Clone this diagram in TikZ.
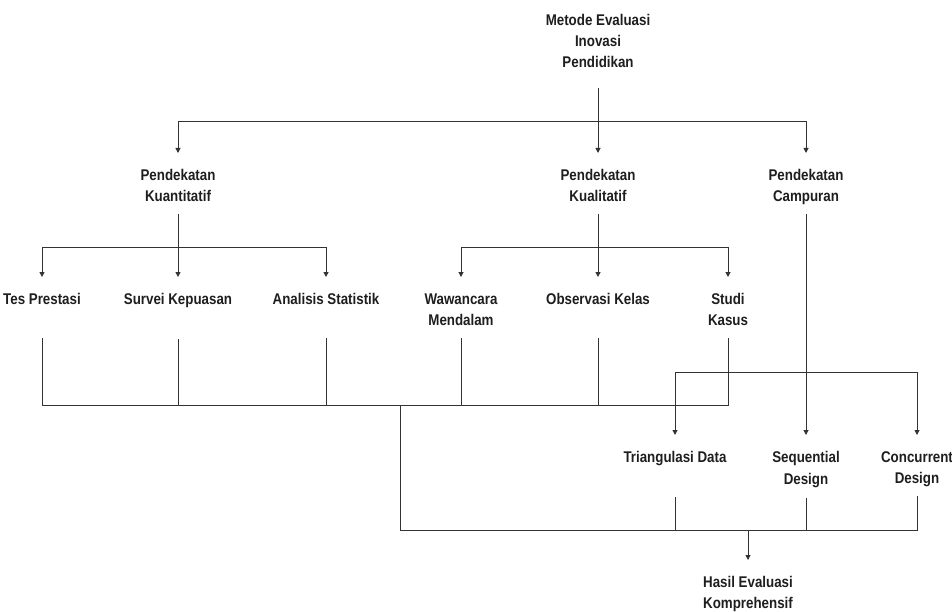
\documentclass[tikz,border=0pt]{standalone}
\usepackage{fontspec}
\newfontfamily\lblfont{Liberation Sans}[FakeStretch=0.86]
\usetikzlibrary{arrows.meta}
\definecolor{txt}{HTML}{1E1E1E}
\definecolor{ln}{HTML}{333333}
\newcommand\ms{\rule[-3pt]{0pt}{21pt}}
\newcommand\twol[2]{\ms #1\\\ms #2}
\newcommand\onel[1]{\ms #1\\\ms}
\begin{document}
\begin{tikzpicture}[x=1pt,y=-1pt,
  lbl/.style={font=\lblfont\bfseries\fontsize{15.5}{21}\selectfont, align=center,
    inner xsep=0pt, inner ysep=9.5pt, outer sep=0pt, text=txt, anchor=north},
  conn/.style={draw=ln, line width=1pt},
  arr/.style={conn, -{Triangle[width=5pt,length=5pt]}}]
\useasboundingbox (0,0) rectangle (952,612);

% nodes
\node[lbl, inner ysep=17pt, anchor=south] (top) at (598,88) {\ms Metode Evaluasi\\\ms Inovasi\\\ms Pendidikan};

\node[lbl] (kuan) at (178,153) {\twol{Pendekatan}{Kuantitatif}};
\node[lbl] (kual) at (598,153) {\twol{Pendekatan}{Kualitatif}};
\node[lbl] (camp) at (806,153) {\twol{Pendekatan}{Campuran}};

\node[lbl] (tes)   at (42,277)  {\onel{Tes Prestasi}};
\node[lbl] (surv)  at (178,277) {\onel{Survei Kepuasan}};
\node[lbl] (anal)  at (326,277) {\onel{Analisis Statistik}};
\node[lbl] (wawa)  at (461,277) {\twol{Wawancara}{Mendalam}};
\node[lbl] (obs)   at (598,277) {\onel{Observasi Kelas}};
\node[lbl] (studi) at (728,277) {\twol{Studi}{Kasus}};

\node[lbl] (tri)  at (675,435) {\onel{Triangulasi Data}};
\node[lbl] (seq)  at (806,435) {\twol{Sequential}{Design}};
\node[lbl] (conc) at (917,435) {\twol{Concurrent}{Design}};

\node[lbl] (hasil) at (748,560) {\twol{Hasil Evaluasi}{Komprehensif}};

% junctions
\coordinate (j1) at (598,122);
\coordinate (j2) at (178,247);
\coordinate (j3) at (598,247);
\coordinate (j4) at (806,372);
\coordinate (m1) at (400,405);
\coordinate (m2) at (748,530);

% top level
\draw[arr] (top.south) -- (kual.north);
\draw[arr] (j1) -| (kuan.north);
\draw[arr] (j1) -| (camp.north);

% quantitative
\draw[arr] (kuan.south) -- (surv.north);
\draw[arr] (j2) -| (tes.north);
\draw[arr] (j2) -| (anal.north);

% qualitative
\draw[arr] (kual.south) -- (obs.north);
\draw[arr] (j3) -| (wawa.north);
\draw[arr] (j3) -| (studi.north);

% mixed
\draw[arr] (camp.south) -- (seq.north);
\draw[arr] (j4) -| (tri.north);
\draw[arr] (j4) -| (conc.north);

% merge of row 2
\draw[conn] (tes.south) |- (m1);
\draw[conn] (surv.south) |- (m1);
\draw[conn] (anal.south) |- (m1);
\draw[conn] (wawa.south) |- (m1);
\draw[conn] (obs.south) |- (m1);
\draw[conn] (studi.south) |- (m1);

% merge to result
\draw[conn] (m1) |- (m2);
\draw[conn] (tri.south) |- (m2);
\draw[conn] (seq.south) |- (m2);
\draw[conn] (conc.south) |- (m2);
\draw[arr] (m2) -- (hasil.north);
\end{tikzpicture}
\end{document}
